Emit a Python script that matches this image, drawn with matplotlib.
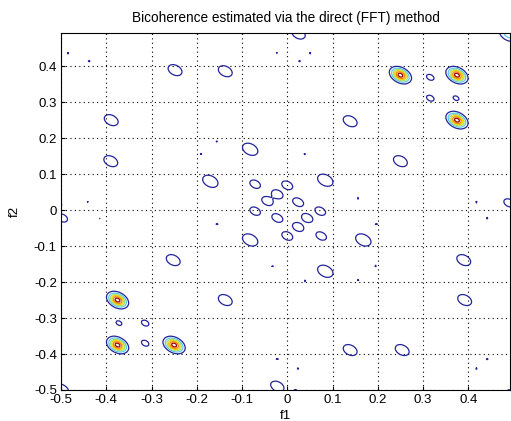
import numpy as np
import matplotlib
matplotlib.use('Agg')
import matplotlib.pyplot as plt

plt.rcParams['font.family'] = ['Liberation Sans', 'DejaVu Sans']
plt.rcParams['axes.unicode_minus'] = False

# strong bicoherence peaks (full set of contour levels)
peak_f1 = [0.25, 0.375, 0.375, -0.375, -0.375, -0.25]
peak_f2 = [0.375, 0.375, 0.25, -0.25, -0.375, -0.375]
peak_amp = [1.0, 1.0, 1.0, 1.0, 1.0, 1.0]

# weaker blobs that only cross the lowest level
blob_f1 = [-0.248, -0.137, 0.025, 0.49, -0.389, 0.139, 0.316, 0.316, 0.373,
           -0.39, -0.17, -0.082, 0.25, 0.084,
           -0.082, 0.168,
           -0.252, 0.39, -0.497, 0.49, 0.084,
           -0.372, -0.314, -0.314, -0.137, 0.139, 0.254, 0.392,
           -0.022, -0.5, 0.49]
blob_f2 = [0.389, 0.386, 0.49, 0.49, 0.25, 0.247, 0.369, 0.311, 0.311,
           0.136, 0.08, 0.169, 0.136, 0.083,
           -0.083, -0.083,
           -0.139, -0.139, -0.022, 0.02, -0.17,
           -0.314, -0.314, -0.37, -0.25, -0.389, -0.389, -0.25,
           -0.49, -0.5, 0.49]
blob_amp = [0.25, 0.25, 0.24, 0.2, 0.25, 0.25, 0.175, 0.175, 0.165,
            0.25, 0.28, 0.28, 0.25, 0.28,
            0.28, 0.28,
            0.25, 0.25, 0.2, 0.2, 0.28,
            0.165, 0.175, 0.175, 0.25, 0.25, 0.25, 0.25,
            0.24, 0.29, 0.2]

# small ring of blobs around the origin
center_f1 = [-0.071, 0.0, -0.022, -0.044, -0.071, 0.024, 0.073, -0.022, 0.044,
             0.024, 0.0, 0.075]
center_f2 = [0.072, 0.069, 0.044, 0.025, -0.003, 0.022, -0.003, -0.022, -0.022,
             -0.047, -0.072, -0.072]
center_amp = [0.27, 0.28, 0.29, 0.29, 0.27, 0.28, 0.27, 0.28, 0.29,
              0.29, 0.28, 0.27]

# isolated specks just above the lowest level
speck_f1 = [-0.438, -0.416, -0.485, -0.022, 0.027, 0.05, -0.19, -0.155, 0.038,
            -0.44, -0.416, 0.418, 0.442, 0.157, -0.155, 0.197, -0.033, 0.195,
            -0.022, 0.024, 0.442, 0.418, 0.157, 0.04, 0.018, 0.49, -0.5]
speck_f2 = [0.414, 0.436, 0.436, 0.436, 0.414, 0.436, 0.155, 0.19, 0.155,
            0.022, -0.022, 0.022, -0.022, 0.033, -0.039, -0.039, -0.155, -0.155,
            -0.414, -0.44, -0.414, -0.44, -0.194, -0.197, -0.5, -0.5, 0.014]

levels = [0.15, 0.3, 0.45, 0.6, 0.75, 0.9]
level_colors = ['#24249a', '#5ac8f0', '#a8e070', '#f0d000', '#f08a00', '#a00000']

tick_vals = [-0.5, -0.4, -0.3, -0.2, -0.1, 0, 0.1, 0.2, 0.3, 0.4]
tick_text = ['-0.5', '-0.4', '-0.3', '-0.2', '-0.1', '0', '0.1', '0.2', '0.3', '0.4']

freqs = np.linspace(-0.5, 0.4922, 255)
F1, F2 = np.meshgrid(freqs, freqs)


def add_blobs(Z, cx, cy, amp, su, sv):
    for x0, y0, a in zip(cx, cy, amp):
        u = ((F1 - x0) - (F2 - y0)) / np.sqrt(2)
        v = ((F1 - x0) + (F2 - y0)) / np.sqrt(2)
        Z += a * np.exp(-u ** 2 / (2 * su ** 2) - v ** 2 / (2 * sv ** 2))
    return Z


bic = np.zeros_like(F1)
bic = add_blobs(bic, peak_f1, peak_f2, peak_amp, 0.0145, 0.0102)
bic = add_blobs(bic, blob_f1, blob_f2, blob_amp, 0.0175, 0.0125)
bic = add_blobs(bic, center_f1, center_f2, center_amp, 0.0125, 0.0088)
bic = add_blobs(bic, speck_f1, speck_f2, [0.18] * len(speck_f1), 0.004, 0.004)

fig = plt.figure(figsize=(5.11, 4.21), dpi=100)
ax = fig.add_axes([61 / 511, 31 / 421, 449 / 511, 357 / 421])
ax.contour(F1, F2, bic, levels=levels, colors=level_colors, linewidths=0.9)

ax.set_xlim(-0.5, 0.4922)
ax.set_ylim(-0.5, 0.4922)
ax.set_xticks(tick_vals)
ax.set_yticks(tick_vals)
ax.set_xticklabels(tick_text)
ax.set_yticklabels(tick_text)
ax.tick_params(direction='in', length=3, labelsize=9.5)
ax.tick_params(axis='x', pad=3)
ax.tick_params(axis='y', pad=3)
ax.grid(True, linestyle=(0, (1, 3)), color='black', linewidth=0.8)
ax.set_title('Bicoherence estimated via the direct (FFT) method', fontsize=9.8, pad=8)
ax.set_xlabel('f1', fontsize=9.5, labelpad=3)
ax.set_ylabel('f2', fontsize=9.5, labelpad=9)

fig.savefig('out.png', dpi=100)
